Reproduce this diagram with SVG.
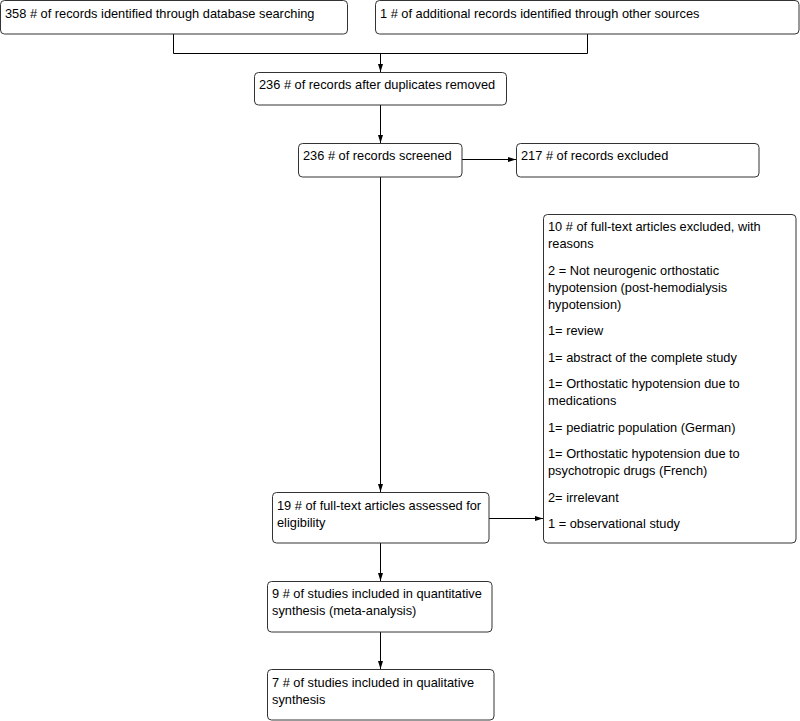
<svg xmlns="http://www.w3.org/2000/svg" width="800" height="721" viewBox="0 0 800 721">
<style>
.box{fill:#fff;stroke:#333;stroke-width:1}
.t{font-family:"Liberation Sans",Arial,sans-serif;font-size:12.8px;fill:#000}
.c{fill:none;stroke:#000;stroke-width:1}
</style>
<defs>
<marker id="ah" viewBox="0 0 8 6" refX="8" refY="3" markerWidth="8" markerHeight="6" markerUnits="userSpaceOnUse" orient="auto">
<path d="M0,0.5 L8,3 L0,5.5 Z" fill="#000"/>
</marker>
</defs>
<rect width="800" height="721" fill="#fff"/>
<g id="connectors">
<polyline class="c" points="173.5,34 173.5,53.5 587.5,53.5 587.5,34"/>
<line class="c" x1="380.5" y1="53.5" x2="380.5" y2="72" marker-end="url(#ah)"/>
<line class="c" x1="380.5" y1="105" x2="380.5" y2="143" marker-end="url(#ah)"/>
<line class="c" x1="462" y1="159.5" x2="516" y2="159.5" marker-end="url(#ah)"/>
<line class="c" x1="380.5" y1="177" x2="380.5" y2="492" marker-end="url(#ah)"/>
<line class="c" x1="489" y1="518.5" x2="543" y2="518.5" marker-end="url(#ah)"/>
<line class="c" x1="380.5" y1="543" x2="380.5" y2="581" marker-end="url(#ah)"/>
<line class="c" x1="380.5" y1="632" x2="380.5" y2="669" marker-end="url(#ah)"/>
</g>
<g id="n1"><rect class="box" x="0.5" y="0.5" width="347" height="33.5" rx="4"/><text class="t" x="5" y="18">358 # of records identified through database searching</text></g>
<g id="n2"><rect class="box" x="375.5" y="0.5" width="423.5" height="33.5" rx="4"/><text class="t" x="380" y="18">1 # of additional records identified through other sources</text></g>
<g id="n3"><rect class="box" x="254.5" y="72.5" width="252" height="32.5" rx="4"/><text class="t" x="259" y="89">236 # of records after duplicates removed</text></g>
<g id="n4"><rect class="box" x="298.5" y="143.5" width="163.5" height="33.5" rx="4"/><text class="t" x="303" y="160">236 # of records screened</text></g>
<g id="n5"><rect class="box" x="516.5" y="143.5" width="242.5" height="33.5" rx="4"/><text class="t" x="521" y="160">217 # of records excluded</text></g>
<g id="n6"><rect class="box" x="272.5" y="492.5" width="216.5" height="50.5" rx="4"/><text class="t" x="277" y="510">19 # of full-text articles assessed for</text><text class="t" x="277" y="527">eligibility</text></g>
<g id="n7"><rect class="box" x="543.5" y="214.5" width="252.5" height="328.5" rx="4"/>
<text class="t" x="548" y="231">10 # of full-text articles excluded, with</text>
<text class="t" x="548" y="248">reasons</text>
<text class="t" x="548" y="274.5">2 = Not neurogenic orthostatic</text>
<text class="t" x="548" y="291.5">hypotension (post-hemodialysis</text>
<text class="t" x="548" y="308.5">hypotension)</text>
<text class="t" x="548" y="335">1= review</text>
<text class="t" x="548" y="361.5">1= abstract of the complete study</text>
<text class="t" x="548" y="388">1= Orthostatic hypotension due to</text>
<text class="t" x="548" y="405">medications</text>
<text class="t" x="548" y="431.5">1= pediatric population (German)</text>
<text class="t" x="548" y="458">1= Orthostatic hypotension due to</text>
<text class="t" x="548" y="475">psychotropic drugs (French)</text>
<text class="t" x="548" y="501.5">2= irrelevant</text>
<text class="t" x="548" y="528">1 = observational study</text>
</g>
<g id="n8"><rect class="box" x="267.5" y="581.5" width="224.5" height="50.5" rx="4"/><text class="t" x="272" y="598">9 # of studies included in quantitative</text><text class="t" x="272" y="615">synthesis (meta-analysis)</text></g>
<g id="n9"><rect class="box" x="267.5" y="669.5" width="226.5" height="50.5" rx="4"/><text class="t" x="272" y="687">7 # of studies included in qualitative</text><text class="t" x="272" y="704">synthesis</text></g>
</svg>
